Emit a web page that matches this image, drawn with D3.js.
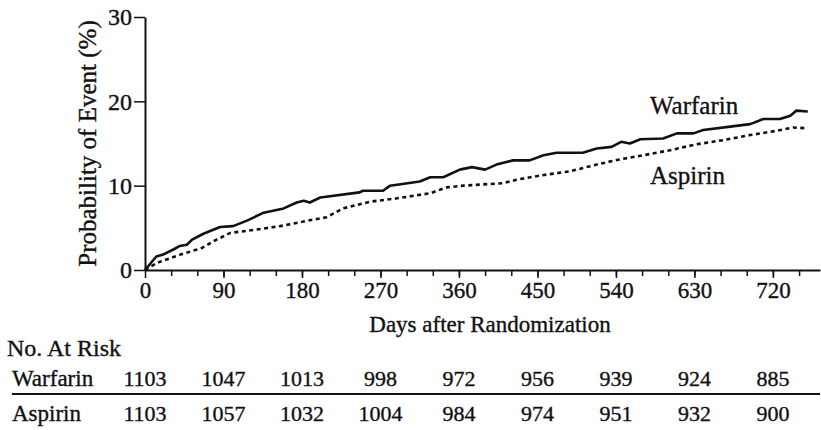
<!DOCTYPE html>
<html>
<head>
<meta charset="utf-8">
<script src="https://cdn.jsdelivr.net/npm/d3@7"></script>
<style>
  body { margin: 0; background: #fff; }
  svg text { font-family: "Liberation Serif", "Times New Roman", serif; fill: #111; stroke: #111; stroke-width: 0.35px; }
</style>
</head>
<body>
<svg id="chart" width="821" height="430"></svg>
<script>
const svg = d3.select("svg#chart");

// curve values (days, percent)
const warfarinDays = [0, 13, 20, 32, 40, 48, 54, 67, 86, 101, 117, 136, 159, 174, 182, 189, 201, 246, 250, 273, 281, 315, 327, 342, 361, 375, 390, 403, 422, 441, 457, 472, 502, 518, 535, 546, 556, 568, 594, 610, 629, 640, 671, 694, 709, 728, 740, 747, 760];
const warfarinPct = [0, 1.6, 1.8, 2.4, 2.85, 3.0, 3.6, 4.3, 5.1, 5.2, 5.85, 6.8, 7.3, 8.0, 8.2, 8.0, 8.6, 9.2, 9.4, 9.4, 10.0, 10.5, 11.0, 11.0, 11.9, 12.2, 11.9, 12.5, 13.0, 13.0, 13.6, 13.9, 13.9, 14.4, 14.6, 15.2, 15.0, 15.5, 15.6, 16.2, 16.2, 16.6, 17.0, 17.3, 17.9, 17.9, 18.3, 18.9, 18.8];

const aspirinDays = [0, 15, 40, 65, 82, 98, 128, 155, 189, 208, 227, 258, 289, 327, 346, 365, 411, 426, 453, 487, 518, 541, 571, 602, 632, 663, 694, 724, 743, 759];
const aspirinPct = [0, 0.9, 1.8, 2.6, 3.6, 4.4, 4.8, 5.2, 5.9, 6.25, 7.3, 8.1, 8.5, 9.1, 9.8, 10.0, 10.3, 10.7, 11.2, 11.7, 12.5, 13.05, 13.6, 14.2, 14.9, 15.4, 16.0, 16.5, 16.9, 16.8];

const xTicks = [0, 90, 180, 270, 360, 450, 540, 630, 720];
const xMinorTicks = d3.range(30, 751, 30);
const yTicks = [0, 10, 20, 30];

// number at risk
const riskDays = [0, 90, 180, 270, 360, 450, 540, 630, 720];
const riskWarfarin = [1103, 1047, 1013, 998, 972, 956, 939, 924, 885];
const riskAspirin = [1103, 1057, 1032, 1004, 984, 974, 951, 932, 900];

const x = d3.scaleLinear().domain([0, 774]).range([145, 820]);
const y = d3.scaleLinear().domain([0, 30]).range([270, 17]);

// x axis: minor ticks every 30 days, labels every 90
svg.append("g")
  .attr("transform", `translate(0,${y(0)})`)
  .call(d3.axisBottom(x).tickValues(xMinorTicks).tickSize(6).tickFormat(""))
  .call(g => g.select(".domain").remove())
  .call(g => g.selectAll("line").attr("stroke", "#111").attr("stroke-width", 1.5));

const xAxis = svg.append("g")
  .attr("transform", `translate(0,${y(0)})`)
  .call(d3.axisBottom(x).tickValues(xTicks).tickSize(8).tickSizeOuter(0).tickPadding(4));
xAxis.select(".domain").attr("stroke", "#111").attr("stroke-width", 2);
xAxis.selectAll("line").attr("stroke", "#111").attr("stroke-width", 1.5);
xAxis.selectAll("text").attr("font-size", 23).attr("font-family", "Liberation Serif");

const yAxis = svg.append("g")
  .attr("transform", `translate(${x(0)},0)`)
  .call(d3.axisLeft(y).tickValues(yTicks).tickSize(11).tickSizeOuter(0).tickPadding(2));
yAxis.select(".domain").attr("stroke", "#111").attr("stroke-width", 2);
yAxis.selectAll("line").attr("stroke", "#111").attr("stroke-width", 1.5);
yAxis.selectAll("text").attr("font-size", 24).attr("font-family", "Liberation Serif");

svg.append("text")
  .attr("transform", `translate(96,${y(15)}) rotate(-90)`)
  .attr("text-anchor", "middle")
  .attr("font-size", 25)
  .text("Probability of Event (%)");

svg.append("text")
  .attr("x", 490)
  .attr("y", 332)
  .attr("text-anchor", "middle")
  .attr("font-size", 23)
  .text("Days after Randomization");

// curves
const line = d3.line().x(d => x(d[0])).y(d => y(d[1]));

svg.append("path")
  .datum(d3.zip(warfarinDays, warfarinPct))
  .attr("d", line)
  .attr("fill", "none")
  .attr("stroke", "#111")
  .attr("stroke-width", 2.6)
  .attr("stroke-linejoin", "round");

svg.append("path")
  .datum(d3.zip(aspirinDays, aspirinPct))
  .attr("d", line)
  .attr("fill", "none")
  .attr("stroke", "#111")
  .attr("stroke-width", 2.6)
  .attr("stroke-dasharray", "4,3.5");

svg.append("text").attr("x", 650).attr("y", 114).attr("font-size", 25).text("Warfarin");
svg.append("text").attr("x", 650).attr("y", 184).attr("font-size", 25).text("Aspirin");

// risk table
svg.append("text").attr("x", 7).attr("y", 356).attr("font-size", 24).text("No. At Risk");

const rows = [
  { name: "Warfarin", values: riskWarfarin, y: 386 },
  { name: "Aspirin", values: riskAspirin, y: 421 }
];

rows.forEach(r => {
  svg.append("text").attr("x", 12).attr("y", r.y).attr("font-size", 23).text(r.name);
  svg.selectAll(null)
    .data(r.values)
    .enter()
    .append("text")
    .attr("x", (d, i) => x(riskDays[i]))
    .attr("y", r.y)
    .attr("text-anchor", "middle")
    .attr("font-size", 22)
    .text(d => d);
});

svg.append("line")
  .attr("x1", 12).attr("x2", 820)
  .attr("y1", 394).attr("y2", 394)
  .attr("stroke", "#111")
  .attr("stroke-width", 2);
</script>
</body>
</html>
